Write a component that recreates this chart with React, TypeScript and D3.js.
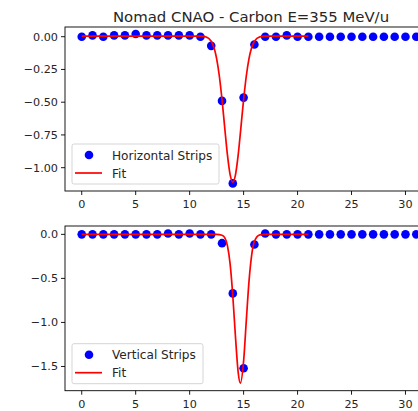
import React from "react";
import * as d3 from "d3";

const strips = d3.range(0, 32);
const horizontalValues = [
  0.0, 0.01, 0.0, 0.01, 0.01, 0.02, 0.01, 0.01, 0.01, 0.01, 0.01, 0.0, -0.07, -0.49, -1.12, -0.465,
  -0.06, 0.0, 0.0, 0.01, 0.0, 0.0, 0.0, 0.0, 0.0, 0.0, 0.0, 0.0, 0.0, 0.0, 0.0, 0.0,
];
const verticalValues = [
  0.0, 0.0, 0.0, 0.0, 0.0, 0.0, 0.0, 0.0, 0.01, 0.0, 0.01, 0.0, 0.0, -0.1, -0.67, -1.52,
  -0.115, 0.01, 0.0, 0.0, 0.0, 0.0, 0.0, 0.0, 0.0, 0.0, 0.0, 0.0, 0.0, 0.0, 0.0, 0.0,
];

const hFitX = [0, 10.5, 11, 11.5, 12, 12.25, 12.5, 12.75, 13, 13.25, 13.5, 13.75, 14, 14.25, 14.5, 14.75, 15, 15.25, 15.5, 15.75, 16, 16.5, 17, 21];
const hFitY = [0.005, 0.005, 0.004, -0.001, -0.035, -0.083, -0.167, -0.3, -0.481, -0.694, -0.901, -1.053, -1.11, -1.053, -0.901, -0.694, -0.481, -0.3, -0.167, -0.083, -0.035, -0.001, 0.004, 0.005];

const vFitX = [0, 12, 12.5, 13, 13.25, 13.5, 13.75, 14, 14.25, 14.5, 14.7, 15, 15.25, 15.5, 15.75, 16, 16.5, 17, 21];
const vFitY = [0, 0, 0, -0.01, -0.038, -0.127, -0.335, -0.7, -1.17, -1.57, -1.69, -1.44, -0.98, -0.534, -0.232, -0.08, -0.005, 0, 0];

const xTicks = [0, 5, 10, 15, 20, 25, 30];
const hYTicks = [0, -0.25, -0.5, -0.75, -1.0];
const vYTicks = [0, -0.5, -1.0, -1.5];

const title = "Nomad CNAO - Carbon E=355 MeV/u";
const hLabel = "Horizontal Strips";
const vLabel = "Vertical Strips";
const fitLabel = "Fit";

const FONT = "DejaVu Sans, sans-serif";
const TXT = "#262626";

function fmt(v: number, dec: number) {
  const s = Math.abs(v).toFixed(dec);
  return v < 0 ? "\u2212" + s : s;
}

type PanelProps = {
  top: number;
  bottom: number;
  yDomain: [number, number];
  values: number[];
  fitX: number[];
  fitY: number[];
  yTicks: number[];
  dec: number;
  label: string;
  legendW: number;
};

function Panel(p: PanelProps) {
  const left = 65;
  const right = 433;
  const x = d3.scaleLinear().domain([-1.55, 32.55]).range([left, right]);
  const y = d3.scaleLinear().domain(p.yDomain).range([p.bottom, p.top]);
  const line = d3
    .line<number>()
    .x((_, i) => x(p.fitX[i]))
    .y((d) => y(d))
    .curve(d3.curveMonotoneX);
  const lx = 72;
  const ly = p.bottom - 47;
  return (
    <g>
      {strips.map((s, i) => (
        <circle key={i} cx={x(s)} cy={y(p.values[i])} r={4.3} fill="#0000ff" />
      ))}
      <path d={line(p.fitY) || ""} fill="none" stroke="#ff0000" strokeWidth={1.7} />
      <rect x={left} y={p.top} width={right - left} height={p.bottom - p.top} fill="none" stroke="#000" strokeWidth={0.9} />
      {xTicks.map((t) => (
        <g key={t}>
          <line x1={x(t)} x2={x(t)} y1={p.bottom} y2={p.bottom + 4} stroke="#000" strokeWidth={0.9} />
          <text x={x(t)} y={p.bottom + 17} textAnchor="middle" fontSize={11.2} fontFamily={FONT} fill={TXT}>
            {t}
          </text>
        </g>
      ))}
      {p.yTicks.map((t) => (
        <g key={t}>
          <line x1={left - 4} x2={left} y1={y(t)} y2={y(t)} stroke="#000" strokeWidth={0.9} />
          <text x={left - 7} y={y(t) + 4} textAnchor="end" fontSize={11.2} fontFamily={FONT} fill={TXT}>
            {fmt(t, p.dec)}
          </text>
        </g>
      ))}
      <rect x={lx} y={ly} width={p.legendW} height={40} rx={2} fill="#fff" fillOpacity={0.8} stroke="#d0d0d0" strokeWidth={0.9} />
      <circle cx={89} cy={ly + 11} r={4.3} fill="#0000ff" />
      <text x={112} y={ly + 15.5} fontSize={12.1} fontFamily={FONT} fill={TXT}>
        {p.label}
      </text>
      <line x1={75} x2={102} y1={ly + 29} y2={ly + 29} stroke="#ff0000" strokeWidth={1.7} />
      <text x={112} y={ly + 33.5} fontSize={12.1} fontFamily={FONT} fill={TXT}>
        {fitLabel}
      </text>
    </g>
  );
}

export default function App() {
  return (
    <svg width={418} height={411} style={{ position: "absolute", left: 0, top: 0, background: "#fff" }}>
      <rect x={0} y={0} width={418} height={411} fill="#fff" />
      <text x={251} y={21.5} textAnchor="middle" fontSize={14.9} fontFamily={FONT} fill={TXT}>
        {title}
      </text>
      <Panel
        top={27}
        bottom={191}
        yDomain={[-1.178, 0.074]}
        values={horizontalValues}
        fitX={hFitX}
        fitY={hFitY}
        yTicks={hYTicks}
        dec={2}
        label={hLabel}
        legendW={147}
      />
      <Panel
        top={226}
        bottom={390.7}
        yDomain={[-1.775, 0.095]}
        values={verticalValues}
        fitX={vFitX}
        fitY={vFitY}
        yTicks={vYTicks}
        dec={1}
        label={vLabel}
        legendW={131}
      />
    </svg>
  );
}
